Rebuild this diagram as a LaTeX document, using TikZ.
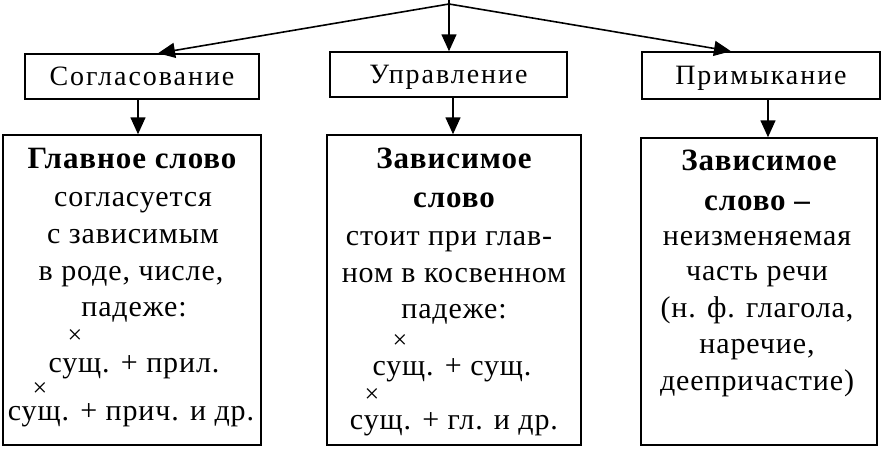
\documentclass[tikz,border=0pt]{standalone}
\usepackage{fontspec}
\setmainfont{Liberation Serif}[LetterSpace=3]
\newfontfamily\labfont{Liberation Serif}[LetterSpace=7]
\usetikzlibrary{arrows.meta}
\begin{document}
\begin{tikzpicture}[x=1pt,y=-1pt,
 box/.style={draw,line width=1.5pt,inner sep=0pt},
 lbox/.style={box,text height=18.5pt,text depth=0pt,font=\labfont\fontsize{28}{32}\selectfont},
 arr/.style={line width=1.6pt,-{Triangle[length=17pt,width=15pt]}},
 txt/.style={anchor=base,inner sep=0pt,font=\fontsize{30}{34}\selectfont},
 hd/.style={anchor=base,inner sep=0pt,font=\fontsize{31}{36}\selectfont\bfseries},
 mk/.style={inner sep=0pt,font=\fontsize{26}{28}\selectfont}]
\useasboundingbox (0,0) rectangle (894,458);
\fill[white] (0,0) rectangle (894,458);
% top boxes
\node[lbox,minimum width=234pt,minimum height=45pt] (s1) at (142,76.5) {Согласование};
\node[lbox,minimum width=237pt,minimum height=45pt] (s2) at (448.5,74.5) {Управление};
\node[lbox,minimum width=238pt,minimum height=47pt] (s3) at (761,75.5) {Примыкание};
% lower boxes
\node[box,minimum width=258pt,minimum height=310pt] (l1) at (132,290) {};
\node[box,minimum width=254pt,minimum height=310pt] (l2) at (454,290) {};
\node[box,minimum width=236pt,minimum height=307pt] (l3) at (759,291.5) {};
% connectors
\coordinate (top) at (449,0);
\coordinate (apex) at (449,4);
\draw[line width=1.6pt] (top) -- (apex);
\draw[arr] (apex) -- ([xshift=16pt]s1.north);
\draw[arr] (apex) -- (apex |- s2.north);
\draw[arr] (apex) -- ([xshift=-30pt]s3.north);
\draw[arr] ([xshift=-4pt]s1.south) -- ([xshift=-4pt]s1.south |- l1.north);
\draw[arr] ([xshift=4.5pt]s2.south) -- ([xshift=4.5pt]s2.south |- l2.north);
\draw[arr] ([xshift=7pt]s3.south) -- ([xshift=7pt]s3.south |- l3.north);
% left box text
\node[hd] (a1) at (132,168) {Главное слово};
\node[txt] (a2) at (133,206) {согласуется};
\node[txt] (a3) at (133,243) {с зависимым};
\node[txt] (a4) at (131,280) {в роде, числе,};
\node[txt] (a5) at (134,316) {падеже:};
\node[mk] (a6) at (75,337) {×};
\node[txt] (a7) at (134,372) {сущ. + прил.};
\node[mk] (a8) at (40,390) {×};
\node[txt] (a9) at (131,420) {сущ. + прич. и др.};
% middle box text
\node[hd] (b1) at (454,168) {Зависимое};
\node[hd] (b2) at (454,207) {слово};
\node[txt] (b3) at (449,245) {стоит при глав-};
\node[txt] (b4) at (454,282) {ном в косвенном};
\node[txt] (b5) at (454,318) {падеже:};
\node[mk] (b6) at (400,342) {×};
\node[txt] (b7) at (452,375) {сущ. + сущ.};
\node[mk] (b8) at (372,396) {×};
\node[txt] (b9) at (454,429) {сущ. + гл. и др.};
% right box text
\node[hd] (c1) at (759,170) {Зависимое};
\node[hd] (c2) at (757,210) {слово –};
\node[txt] (c3) at (757,245) {неизменяемая};
\node[txt] (c4) at (757,280) {часть речи};
\node[txt] (c5) at (757,317) {(н. ф. глагола,};
\node[txt] (c6) at (757,353) {наречие,};
\node[txt] (c7) at (757,390) {деепричастие)};
\end{tikzpicture}
\end{document}
